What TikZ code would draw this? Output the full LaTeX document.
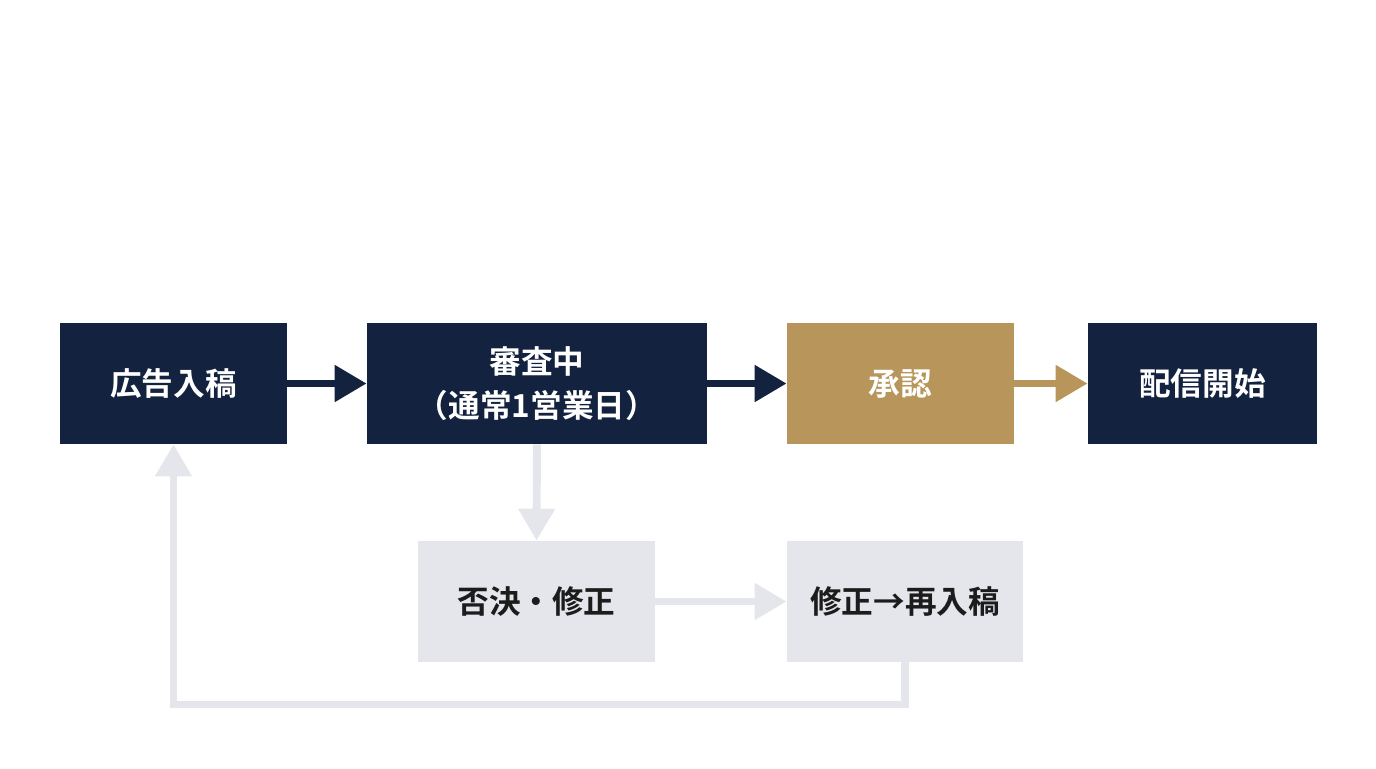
\documentclass[tikz,border=0pt]{standalone}
\usepackage{fontspec}
\setmainfont{Noto Sans CJK JP}[BoldFont={Noto Sans CJK JP Bold}]
\usetikzlibrary{positioning,arrows.meta}

\definecolor{navy}{HTML}{12223F}
\definecolor{gold}{HTML}{B8965B}
\definecolor{paleg}{HTML}{E4E6EB}
\definecolor{inkg}{HTML}{1C1C1C}

\begin{document}
\begin{tikzpicture}[
    x=0.02cm, y=-0.02cm,
    % boxes
    stepbox/.style={rectangle, inner sep=0pt, minimum height=2.42cm,
        font=\bfseries\fontsize{18}{25}\selectfont, align=center},
    dark/.style={stepbox, fill=navy, text=white},
    okbox/.style={stepbox, fill=gold, text=white},
    pale/.style={stepbox, fill=paleg, text=inkg},
    % connectors
    flow/.style={line width=4.5pt, -{Triangle[length=0.64cm,width=0.7cm]}},
    goflow/.style={flow, draw=navy},
    okflow/.style={flow, draw=gold},
    ngflow/.style={flow, draw=paleg}
]
    \useasboundingbox (0,0) rectangle (1376,768);

    \node[dark, minimum width=4.54cm] (ad) at (173.5,383.5) {広告入稿};
    \node[dark, minimum width=6.8cm] (review) at (537,383.5) {審査中\\（通常1営業日）};
    \node[okbox, minimum width=4.54cm] (approve) at (900.5,383.5) {承認};
    \node[dark, minimum width=4.58cm] (deliver) at (1202.5,383.5) {配信開始};

    \node[pale, minimum width=4.74cm] (reject) at (536.5,601.5) {否決・修正};
    \node[pale, minimum width=4.72cm] (resubmit) at (905,601.5) {修正→再入稿};

    \coordinate (loop) at (173.5,704.5);

    \draw[goflow] (ad) -- (review);
    \draw[goflow] (review) -- (approve);
    \draw[okflow] (approve) -- (deliver);
    \draw[ngflow] (review.south) -- (reject.north);
    \draw[ngflow] (reject) -- (resubmit);
    \draw[ngflow] (resubmit.south) |- (loop) -- (ad.south);
\end{tikzpicture}
\end{document}
